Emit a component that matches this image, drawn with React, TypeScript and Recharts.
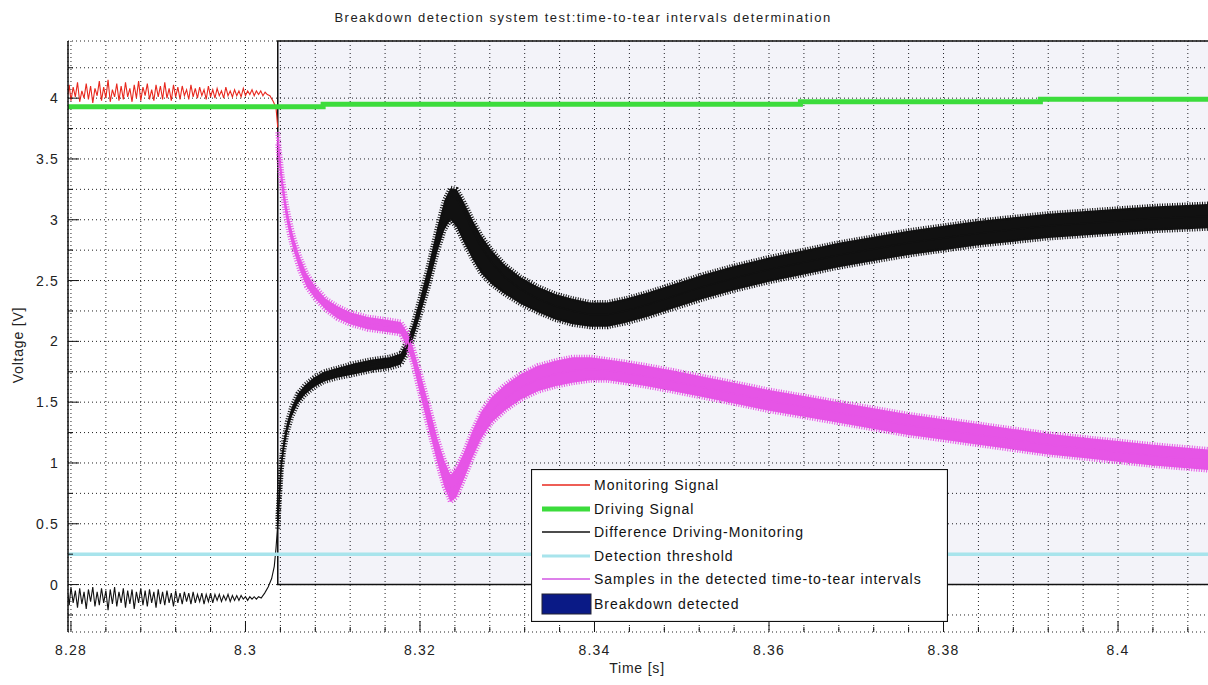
import React from "react";
import {
  ComposedChart,
  Line,
  Area,
  XAxis,
  YAxis,
  CartesianGrid,
  ReferenceArea,
  Legend,
} from "recharts";

const FONT = "'Liberation Sans', Arial, sans-serif";

// axes
const timeRange = [8.27966, 8.41054];
const voltRange = [-0.39, 4.47];
const timeTicks = [
  8.28, 8.284, 8.288, 8.292, 8.296, 8.3, 8.304, 8.308, 8.312, 8.316, 8.32,
  8.324, 8.328, 8.332, 8.336, 8.34, 8.344, 8.348, 8.352, 8.356, 8.36, 8.364,
  8.368, 8.372, 8.376, 8.38, 8.384, 8.388, 8.392, 8.396, 8.4, 8.404, 8.408,
];
const voltTicks = [
  -0.25, 0, 0.25, 0.5, 0.75, 1, 1.25, 1.5, 1.75, 2, 2.25, 2.5, 2.75, 3, 3.25,
  3.5, 3.75, 4, 4.25,
];

// monitoring signal [t, V] (before breakdown)
const monitoring = [
  [8.27966, 4.03], [8.2798, 4.11], [8.28, 3.98], [8.28025, 4.09], [8.2805, 4.01],
  [8.28075, 4.13], [8.281, 3.97], [8.28125, 4.06], [8.2815, 4.0], [8.28175, 4.12],
  [8.282, 3.99], [8.28225, 4.1], [8.2825, 3.96], [8.28275, 4.08], [8.283, 4.02],
  [8.28325, 4.14], [8.2835, 3.98], [8.28375, 4.09], [8.284, 4.0], [8.28425, 4.15],
  [8.2845, 3.97], [8.28475, 4.07], [8.285, 4.01], [8.28525, 4.12], [8.2855, 3.98],
  [8.28575, 4.1], [8.286, 3.99], [8.28625, 4.13], [8.2865, 4.01], [8.28675, 4.08],
  [8.287, 3.97], [8.28725, 4.11], [8.2875, 4.0], [8.28775, 4.14], [8.288, 3.98],
  [8.28825, 4.09], [8.2885, 4.02], [8.28875, 4.12], [8.289, 3.99], [8.28925, 4.07],
  [8.2895, 3.98], [8.28975, 4.11], [8.29, 4.01], [8.29025, 4.1], [8.2905, 3.99],
  [8.29075, 4.13], [8.291, 4.0], [8.29125, 4.08], [8.2915, 3.98], [8.29175, 4.11],
  [8.292, 4.01], [8.29225, 4.09], [8.2925, 3.99], [8.29275, 4.1], [8.293, 4.02],
  [8.29325, 4.07], [8.2935, 3.99], [8.29375, 4.11], [8.294, 4.01], [8.29425, 4.08],
  [8.2945, 4.0], [8.29475, 4.09], [8.295, 4.02], [8.29525, 4.07], [8.2955, 3.99],
  [8.29575, 4.1], [8.296, 4.01], [8.29625, 4.07], [8.2965, 4.0], [8.29675, 4.08],
  [8.297, 4.02], [8.29725, 4.06], [8.2975, 4.0], [8.29775, 4.09], [8.298, 4.02],
  [8.29825, 4.06], [8.2985, 4.01], [8.29875, 4.07], [8.299, 4.02], [8.29925, 4.06],
  [8.2995, 4.01], [8.29975, 4.08], [8.3, 4.02], [8.30025, 4.06], [8.3005, 4.03],
  [8.30075, 4.07], [8.301, 4.02], [8.30125, 4.06], [8.3015, 4.03], [8.30175, 4.06],
  [8.302, 4.02], [8.30225, 4.05], [8.3025, 4.03], [8.3028, 4.02], [8.3032, 3.97],
  [8.3035, 3.92], [8.3037, 3.76],
];

// driving signal [t, V]
const driving = [
  [8.27966, 3.93], [8.3089, 3.93], [8.3089, 3.95], [8.3636, 3.95],
  [8.3636, 3.97], [8.3911, 3.97], [8.3911, 3.99], [8.41054, 3.99],
];

// difference driving-monitoring before breakdown [t, V]
const differenceStart = [
  [8.27966, -0.08], [8.2798, -0.17], [8.28, -0.02], [8.28025, -0.15], [8.2805, -0.05],
  [8.28075, -0.19], [8.281, -0.03], [8.28125, -0.16], [8.2815, -0.06], [8.28175, -0.2],
  [8.282, -0.04], [8.28225, -0.14], [8.2825, -0.02], [8.28275, -0.18], [8.283, -0.06],
  [8.28325, -0.17], [8.2835, -0.03], [8.28375, -0.15], [8.284, -0.05], [8.28425, -0.21],
  [8.2845, -0.04], [8.28475, -0.16], [8.285, -0.02], [8.28525, -0.18], [8.2855, -0.06],
  [8.28575, -0.15], [8.286, -0.03], [8.28625, -0.19], [8.2865, -0.05], [8.28675, -0.16],
  [8.287, -0.04], [8.28725, -0.2], [8.2875, -0.06], [8.28775, -0.15], [8.288, -0.03],
  [8.28825, -0.17], [8.2885, -0.05], [8.28875, -0.18], [8.289, -0.04], [8.28925, -0.15],
  [8.2895, -0.06], [8.28975, -0.19], [8.29, -0.04], [8.29025, -0.16], [8.2905, -0.06],
  [8.29075, -0.17], [8.291, -0.05], [8.29125, -0.15], [8.2915, -0.07], [8.29175, -0.18],
  [8.292, -0.05], [8.29225, -0.15], [8.2925, -0.07], [8.29275, -0.16], [8.293, -0.06],
  [8.29325, -0.14], [8.2935, -0.07], [8.29375, -0.16], [8.294, -0.06], [8.29425, -0.15],
  [8.2945, -0.08], [8.29475, -0.14], [8.295, -0.07], [8.29525, -0.16], [8.2955, -0.08],
  [8.29575, -0.14], [8.296, -0.07], [8.29625, -0.15], [8.2965, -0.08], [8.29675, -0.13],
  [8.297, -0.08], [8.29725, -0.14], [8.2975, -0.09], [8.29775, -0.13], [8.298, -0.08],
  [8.29825, -0.14], [8.2985, -0.09], [8.29875, -0.13], [8.299, -0.09], [8.29925, -0.13],
  [8.2995, -0.09], [8.29975, -0.12], [8.3, -0.1], [8.30025, -0.13], [8.3005, -0.1],
  [8.30075, -0.12], [8.301, -0.1], [8.30125, -0.12], [8.3015, -0.1], [8.3018, -0.11],
  [8.3022, -0.07], [8.3026, -0.02], [8.303, 0.05], [8.3033, 0.15], [8.3035, 0.3],
  [8.3037, 0.5],
];

// difference after breakdown [t, V, noise low, noise high]
const differenceAfter = [
  [8.3037, 0.5, 0.46, 0.54], [8.3039, 0.75, 0.71, 0.79], [8.3041, 0.98, 0.94, 1.02],
  [8.3044, 1.15, 1.11, 1.19], [8.3048, 1.3, 1.26, 1.34], [8.3053, 1.42, 1.38, 1.46],
  [8.306, 1.53, 1.49, 1.57], [8.3068, 1.6, 1.56, 1.64], [8.3078, 1.66, 1.62, 1.7],
  [8.309, 1.71, 1.67, 1.75], [8.3105, 1.74, 1.7, 1.78], [8.3125, 1.78, 1.73, 1.82],
  [8.3145, 1.81, 1.76, 1.85], [8.3165, 1.83, 1.78, 1.87], [8.3178, 1.86, 1.81, 1.9],
  [8.3185, 1.95, 1.9, 2.0], [8.3192, 2.08, 2.02, 2.14], [8.32, 2.28, 2.21, 2.35],
  [8.321, 2.55, 2.46, 2.63], [8.322, 2.85, 2.74, 2.94], [8.3228, 3.08, 2.92, 3.16],
  [8.3235, 3.2, 3.0, 3.26], [8.3242, 3.18, 2.94, 3.25], [8.325, 3.07, 2.82, 3.15],
  [8.326, 2.92, 2.68, 3.0], [8.327, 2.78, 2.56, 2.87], [8.3282, 2.65, 2.47, 2.75],
  [8.3297, 2.53, 2.39, 2.63], [8.3315, 2.43, 2.31, 2.53], [8.3335, 2.35, 2.24, 2.45],
  [8.3355, 2.29, 2.18, 2.39], [8.3375, 2.25, 2.14, 2.35], [8.3395, 2.22, 2.12, 2.32],
  [8.3415, 2.22, 2.12, 2.32], [8.3435, 2.25, 2.15, 2.35], [8.346, 2.3, 2.2, 2.4],
  [8.349, 2.37, 2.27, 2.47], [8.3525, 2.45, 2.35, 2.55], [8.356, 2.52, 2.42, 2.62],
  [8.36, 2.59, 2.49, 2.69], [8.364, 2.65, 2.55, 2.75], [8.368, 2.71, 2.61, 2.81],
  [8.372, 2.76, 2.66, 2.86], [8.376, 2.81, 2.71, 2.91], [8.38, 2.85, 2.75, 2.95],
  [8.384, 2.89, 2.79, 2.99], [8.388, 2.92, 2.82, 3.02], [8.392, 2.95, 2.85, 3.05],
  [8.396, 2.97, 2.87, 3.07], [8.4, 2.99, 2.89, 3.09], [8.404, 3.01, 2.91, 3.11],
  [8.41054, 3.03, 2.93, 3.13],
];

// samples in the detected time-to-tear intervals [t, V, noise low, noise high]
const samples = [
  [8.3037, 3.68, 3.62, 3.72], [8.3039, 3.5, 3.44, 3.56], [8.3042, 3.3, 3.24, 3.36],
  [8.3046, 3.1, 3.04, 3.16], [8.305, 2.95, 2.89, 3.01], [8.3055, 2.8, 2.75, 2.86],
  [8.3062, 2.64, 2.59, 2.7], [8.307, 2.5, 2.45, 2.56], [8.308, 2.4, 2.35, 2.45],
  [8.3092, 2.3, 2.26, 2.35], [8.3105, 2.24, 2.19, 2.29], [8.312, 2.19, 2.14, 2.24],
  [8.314, 2.15, 2.1, 2.2], [8.316, 2.13, 2.08, 2.18], [8.3178, 2.11, 2.06, 2.16],
  [8.3185, 2.02, 1.96, 2.08], [8.3192, 1.88, 1.81, 1.95], [8.32, 1.66, 1.57, 1.75],
  [8.321, 1.38, 1.28, 1.48], [8.322, 1.1, 1.0, 1.2], [8.3228, 0.9, 0.8, 1.02],
  [8.3235, 0.78, 0.68, 0.9], [8.3242, 0.82, 0.72, 0.96], [8.325, 0.96, 0.86, 1.08],
  [8.326, 1.14, 1.04, 1.26], [8.327, 1.3, 1.2, 1.42], [8.3282, 1.43, 1.33, 1.54],
  [8.3297, 1.53, 1.43, 1.64], [8.3315, 1.62, 1.52, 1.73], [8.3335, 1.69, 1.59, 1.8],
  [8.3355, 1.73, 1.63, 1.84], [8.3375, 1.76, 1.66, 1.87], [8.3395, 1.77, 1.68, 1.87],
  [8.3415, 1.76, 1.68, 1.85], [8.3435, 1.74, 1.66, 1.83], [8.346, 1.71, 1.63, 1.8],
  [8.349, 1.67, 1.59, 1.76], [8.3525, 1.62, 1.54, 1.71], [8.356, 1.57, 1.49, 1.66],
  [8.36, 1.51, 1.43, 1.6], [8.364, 1.46, 1.38, 1.55], [8.368, 1.41, 1.33, 1.5],
  [8.372, 1.36, 1.28, 1.45], [8.376, 1.31, 1.23, 1.4], [8.38, 1.27, 1.19, 1.36],
  [8.384, 1.23, 1.15, 1.32], [8.388, 1.19, 1.11, 1.28], [8.392, 1.15, 1.07, 1.24],
  [8.396, 1.12, 1.04, 1.21], [8.4, 1.09, 1.01, 1.18], [8.404, 1.06, 0.98, 1.15],
  [8.41054, 1.02, 0.94, 1.11],
];

const thresholdLevel = 0.25;
const breakdownStart = 8.3037;

const legendLabels = [
  "Monitoring Signal",
  "Driving Signal",
  "Difference Driving-Monitoring",
  "Detection threshold",
  "Samples in the detected time-to-tear intervals",
  "Breakdown detected",
];

const C = {
  monitoring: "#E8281E",
  driving: "#3CDC3C",
  difference: "#111111",
  threshold: "#A8E4EC",
  samples: "#E655E6",
  breakdown: "#0A1A86",
};

const pts = (a: number[][]) => a.map(([t, v]) => ({ t, v }));
const band = (a: number[][]) => a.map(([t, v, lo, hi]) => ({ t, v, band: [lo, hi] }));

const monitoringData = pts(monitoring);
const drivingData = pts(driving);
const differenceStartData = pts(differenceStart);
const differenceData = band(differenceAfter);
const samplesData = band(samples);
const thresholdData = pts([
  [timeRange[0], thresholdLevel],
  [timeRange[1], thresholdLevel],
]);

const isMajorT = (v: number) => Math.abs(v * 50 - Math.round(v * 50)) < 1e-6;
const isMajorV = (v: number) => Math.abs(v * 2 - Math.round(v * 2)) < 1e-9;

const labelStyle = { fontFamily: FONT, fontSize: 14, fill: "#222", letterSpacing: 1.2 };

function BottomTick(p: any) {
  const major = isMajorT(p.payload.value);
  return (
    <g>
      <line x1={p.x} x2={p.x} y1={p.y} y2={p.y - (major ? 11 : 5)} stroke="#111" />
      {major && (
        <text x={p.x} y={p.y + 23} textAnchor="middle" {...labelStyle}>
          {String(+p.payload.value.toFixed(2))}
        </text>
      )}
    </g>
  );
}

function TopTick(p: any) {
  const major = isMajorT(p.payload.value);
  return <line x1={p.x} x2={p.x} y1={p.y} y2={p.y + (major ? 11 : 5)} stroke="#111" />;
}

function LeftTick(p: any) {
  const major = isMajorV(p.payload.value);
  return (
    <g>
      <line x1={p.x} x2={p.x + (major ? 11 : 5)} y1={p.y} y2={p.y} stroke="#111" />
      {major && (
        <text x={p.x - 9} y={p.y + 5} textAnchor="end" {...labelStyle}>
          {String(p.payload.value)}
        </text>
      )}
    </g>
  );
}

function RightTick(p: any) {
  const major = isMajorV(p.payload.value);
  return <line x1={p.x} x2={p.x - (major ? 11 : 5)} y1={p.y} y2={p.y} stroke="#111" />;
}

function LegendBox() {
  const rows = [16, 40, 63, 87, 110, 135];
  const samplesStyle = [
    { stroke: C.monitoring, w: 1.5 },
    { stroke: C.driving, w: 5 },
    { stroke: C.difference, w: 1.5 },
    { stroke: C.threshold, w: 3 },
    { stroke: "#DD80EA", w: 2 },
  ];
  return (
    <svg width={417} height={153} style={{ display: "block" }}>
      <rect x={0.5} y={0.5} width={416} height={152} fill="#fff" stroke="#111" strokeWidth={1.2} />
      {legendLabels.map((label, i) => (
        <g key={label}>
          {i < 5 ? (
            <line
              x1={11}
              x2={59}
              y1={rows[i]}
              y2={rows[i]}
              stroke={samplesStyle[i].stroke}
              strokeWidth={samplesStyle[i].w}
            />
          ) : (
            <rect x={11} y={rows[i] - 10} width={49} height={20} fill={C.breakdown} stroke="#223" />
          )}
          <text
            x={63}
            y={rows[i] + 5}
            fontFamily={FONT}
            fontSize={14}
            letterSpacing={1}
            fill="#111"
          >
            {label}
          </text>
        </g>
      ))}
    </svg>
  );
}

export default function App() {
  return (
    <div style={{ position: "relative", width: 1208, height: 685, overflow: "hidden", background: "#fff" }}>
      <style>{`html,body{margin:0;padding:0;overflow:hidden;background:#fff}`}</style>
      <div
        style={{
          position: "absolute",
          left: 583,
          top: 10,
          transform: "translateX(-50%)",
          whiteSpace: "nowrap",
          fontFamily: FONT,
          fontSize: 13,
          letterSpacing: 1.5,
          lineHeight: "16px",
          color: "#222",
        }}
      >
        Breakdown detection system test:time-to-tear intervals determination
      </div>
      <div
        style={{
          position: "absolute",
          left: 637,
          top: 660,
          transform: "translateX(-50%)",
          whiteSpace: "nowrap",
          fontFamily: FONT,
          fontSize: 14,
          letterSpacing: 0.8,
          lineHeight: "16px",
          color: "#222",
        }}
      >
        Time [s]
      </div>
      <div
        style={{
          position: "absolute",
          left: 18,
          top: 345,
          transform: "translate(-50%, -50%) rotate(-90deg)",
          whiteSpace: "nowrap",
          fontFamily: FONT,
          fontSize: 14,
          letterSpacing: 0.8,
          lineHeight: "16px",
          color: "#222",
        }}
      >
        Voltage [V]
      </div>
      <div style={{ position: "absolute", left: 0, top: 0 }}>
        <ComposedChart
          width={1212}
          height={685}
          margin={{ top: 41, right: 2, bottom: 0, left: 8 }}
        >
          <CartesianGrid stroke="#222" strokeDasharray="1 3" strokeWidth={1} />
          <XAxis
            dataKey="t"
            type="number"
            domain={timeRange}
            ticks={timeTicks}
            interval={0}
            allowDataOverflow
            height={53}
            tickSize={0}
            tickMargin={0}
            axisLine={false}
            tick={(p: any) => <BottomTick {...p} />}
          />
          <XAxis
            xAxisId="top"
            orientation="top"
            dataKey="t"
            type="number"
            domain={timeRange}
            ticks={timeTicks}
            interval={0}
            allowDataOverflow
            height={0}
            tickSize={0}
            tickMargin={0}
            axisLine={{ stroke: "#111", strokeWidth: 1.5 }}
            tick={(p: any) => <TopTick {...p} />}
          />
          <YAxis
            type="number"
            domain={voltRange}
            ticks={voltTicks}
            interval={0}
            allowDataOverflow
            width={60}
            tickSize={0}
            tickMargin={0}
            axisLine={{ stroke: "#111", strokeWidth: 1.5 }}
            tick={(p: any) => <LeftTick {...p} />}
          />
          <YAxis
            yAxisId="right"
            orientation="right"
            type="number"
            domain={voltRange}
            ticks={voltTicks}
            interval={0}
            allowDataOverflow
            width={0}
            tickSize={0}
            tickMargin={0}
            axisLine={false}
            tick={(p: any) => <RightTick {...p} />}
          />
          <ReferenceArea
            x1={breakdownStart}
            x2={timeRange[1]}
            y1={0}
            y2={voltRange[1]}
            fill={C.breakdown}
            fillOpacity={0.05}
            stroke="#111"
            strokeWidth={1.5}
          />
          <Line
            data={monitoringData}
            dataKey="v"
            type="linear"
            stroke={C.monitoring}
            strokeWidth={1.1}
            dot={false}
            activeDot={false}
            isAnimationActive={false}
          />
          <Line
            data={drivingData}
            dataKey="v"
            type="linear"
            stroke={C.driving}
            strokeWidth={5}
            dot={false}
            activeDot={false}
            isAnimationActive={false}
          />
          <Line
            data={differenceStartData}
            dataKey="v"
            type="linear"
            stroke={C.difference}
            strokeWidth={1.1}
            dot={false}
            activeDot={false}
            isAnimationActive={false}
          />
          <Area
            data={differenceData}
            dataKey="band"
            type="linear"
            stroke={C.difference}
            strokeWidth={5}
            strokeDasharray="1 1.5"
            fill={C.difference}
            fillOpacity={1}
            activeDot={false}
            isAnimationActive={false}
          />
          <Line
            data={differenceData}
            dataKey="v"
            type="linear"
            stroke={C.difference}
            strokeWidth={1.5}
            dot={false}
            activeDot={false}
            isAnimationActive={false}
          />
          <Line
            data={thresholdData}
            dataKey="v"
            type="linear"
            stroke={C.threshold}
            strokeWidth={3.5}
            dot={false}
            activeDot={false}
            isAnimationActive={false}
          />
          <Area
            data={samplesData}
            dataKey="band"
            type="linear"
            stroke={C.samples}
            strokeWidth={5}
            strokeDasharray="1 1.5"
            fill={C.samples}
            fillOpacity={1}
            activeDot={false}
            isAnimationActive={false}
          />
          <Line
            data={samplesData}
            dataKey="v"
            type="linear"
            stroke={C.samples}
            strokeWidth={1.5}
            dot={false}
            activeDot={false}
            isAnimationActive={false}
          />
          <Legend
            layout="vertical"
            align="center"
            verticalAlign="middle"
            wrapperStyle={{ left: 531, top: 469, width: 417, height: 153 }}
            content={() => <LegendBox />}
          />
        </ComposedChart>
      </div>
    </div>
  );
}
